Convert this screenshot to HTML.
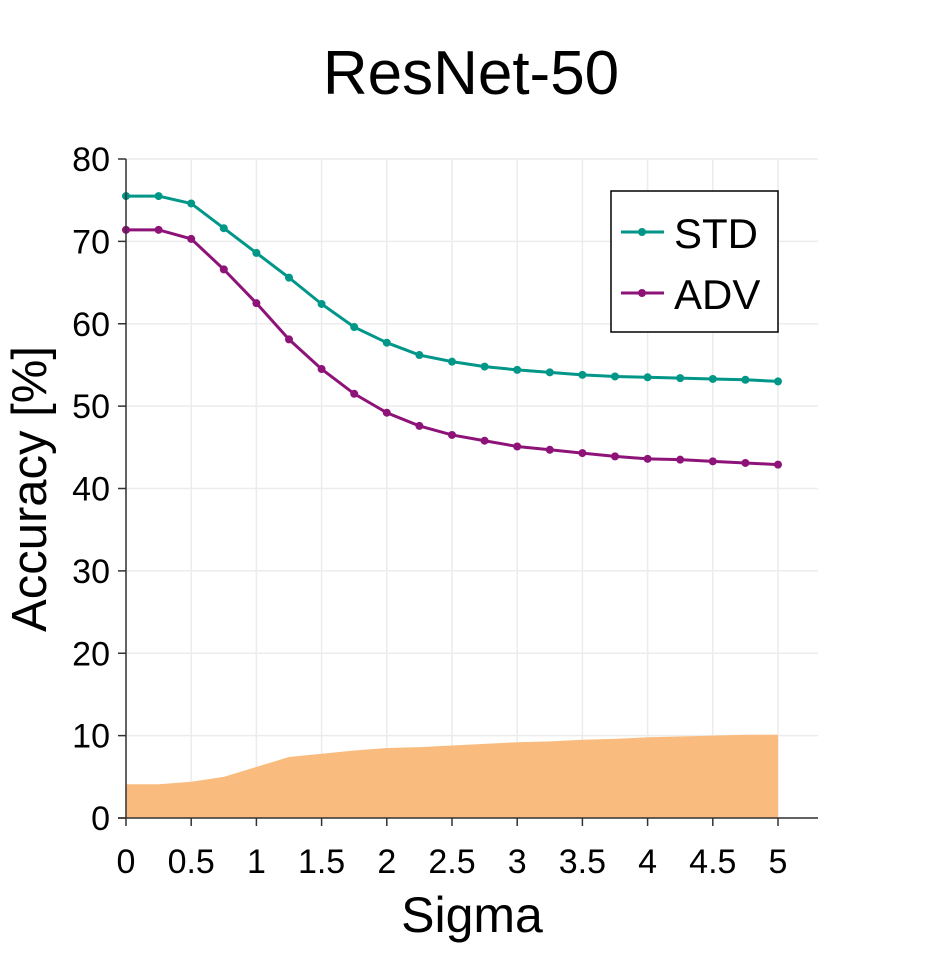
<!DOCTYPE html>
<html><head><meta charset="utf-8"><style>
body{margin:0;background:#fff;}
svg text{font-family:"Liberation Sans",sans-serif;fill:#000;}
</style></head><body>
<svg id="chart" width="952" height="952">
<text x="471" y="94" font-size="62" text-anchor="middle">ResNet-50</text>
<g id="grid"></g><g id="area"></g><g id="series"></g><g id="axes"></g>
<text x="472" y="932" font-size="50" text-anchor="middle">Sigma</text>
<text transform="translate(46,489) rotate(-90)" font-size="49" text-anchor="middle">Accuracy [%]</text>
<g>
<rect x="611" y="191" width="167" height="141" fill="#fff" stroke="#000" stroke-width="1.5"/>
<line x1="621" y1="232" x2="664" y2="232" stroke="#009688" stroke-width="3"/><circle cx="642" cy="232" r="4" fill="#009688"/>
<text x="674" y="248" font-size="42">STD</text>
<line x1="621" y1="293" x2="664" y2="293" stroke="#8e1378" stroke-width="3"/><circle cx="642" cy="293" r="4" fill="#8e1378"/>
<text x="674" y="309" font-size="42">ADV</text>
</g>
</svg>
<script>
const sigma=[0,0.25,0.5,0.75,1,1.25,1.5,1.75,2,2.25,2.5,2.75,3,3.25,3.5,3.75,4,4.25,4.5,4.75,5];
const stdVals=[75.5,75.5,74.6,71.6,68.6,65.6,62.4,59.6,57.7,56.2,55.4,54.8,54.4,54.1,53.8,53.6,53.5,53.4,53.3,53.2,53.0];
const advVals=[71.4,71.4,70.3,66.6,62.5,58.1,54.5,51.5,49.2,47.6,46.5,45.8,45.1,44.7,44.3,43.9,43.6,43.5,43.3,43.1,42.9];
const gapVals=[4.1,4.1,4.4,5.0,6.2,7.4,7.8,8.2,8.5,8.6,8.8,9.0,9.2,9.3,9.5,9.6,9.8,9.9,10.0,10.1,10.1];
const xTicks=[0,0.5,1,1.5,2,2.5,3,3.5,4,4.5,5];
const xTickLabels=["0","0.5","1","1.5","2","2.5","3","3.5","4","4.5","5"];
const yTicks=[0,10,20,30,40,50,60,70,80];
const X=v=>126+v*130.4, Y=v=>818-v*8.2375;
const ns="http://www.w3.org/2000/svg";
function mk(p,t,a){const e=document.createElementNS(ns,t);for(const k in a)e.setAttribute(k,a[k]);p.appendChild(e);return e;}
const grid=document.getElementById('grid'),axes=document.getElementById('axes');
xTicks.forEach((t,i)=>{
 const g=mk(grid,'line',{x1:X(t),x2:X(t),y1:159,y2:818,stroke:'#ececec','stroke-width':1.5});
 
 mk(axes,'line',{x1:X(t),x2:X(t),y1:818,y2:826,stroke:'#333','stroke-width':1.5});
 const tx=mk(axes,'text',{x:X(t),y:873,'font-size':34,'text-anchor':'middle'});tx.textContent=xTickLabels[i];
 
});
yTicks.forEach(t=>{
 const g=mk(grid,'line',{x1:118,x2:818,y1:Y(t),y2:Y(t),stroke:'#ececec','stroke-width':1.5});
 
 mk(axes,'line',{x1:118,x2:126,y1:Y(t),y2:Y(t),stroke:'#333','stroke-width':1.5});
 const tx=mk(axes,'text',{x:110,y:Y(t)+12,'font-size':34,'text-anchor':'end'});tx.textContent=t;
 
});
mk(axes,'line',{x1:126,x2:126,y1:159,y2:818,stroke:'#333','stroke-width':1.5});
mk(axes,'line',{x1:118,x2:818,y1:818,y2:818,stroke:'#333','stroke-width':1.5});
let d='M'+X(sigma[0])+','+Y(0);sigma.forEach((s,i)=>d+=' L'+X(s)+','+Y(gapVals[i]));d+=' L'+X(sigma[sigma.length-1])+','+Y(0)+'Z';
const ar=mk(document.getElementById('area'),'path',{d:d,fill:'#f9bc7e'});

const ser=document.getElementById('series');
[[stdVals,'#009688','std'],[advVals,'#8e1378','adv']].forEach(([v,c,n])=>{
 const pl=mk(ser,'polyline',{points:sigma.map((s,i)=>X(s)+','+Y(v[i])).join(' '),fill:'none',stroke:c,'stroke-width':3});
 
 sigma.forEach((s,i)=>{const p=mk(ser,'circle',{cx:X(s),cy:Y(v[i]),r:4,fill:c});
  });
});
</script>
</body></html>
